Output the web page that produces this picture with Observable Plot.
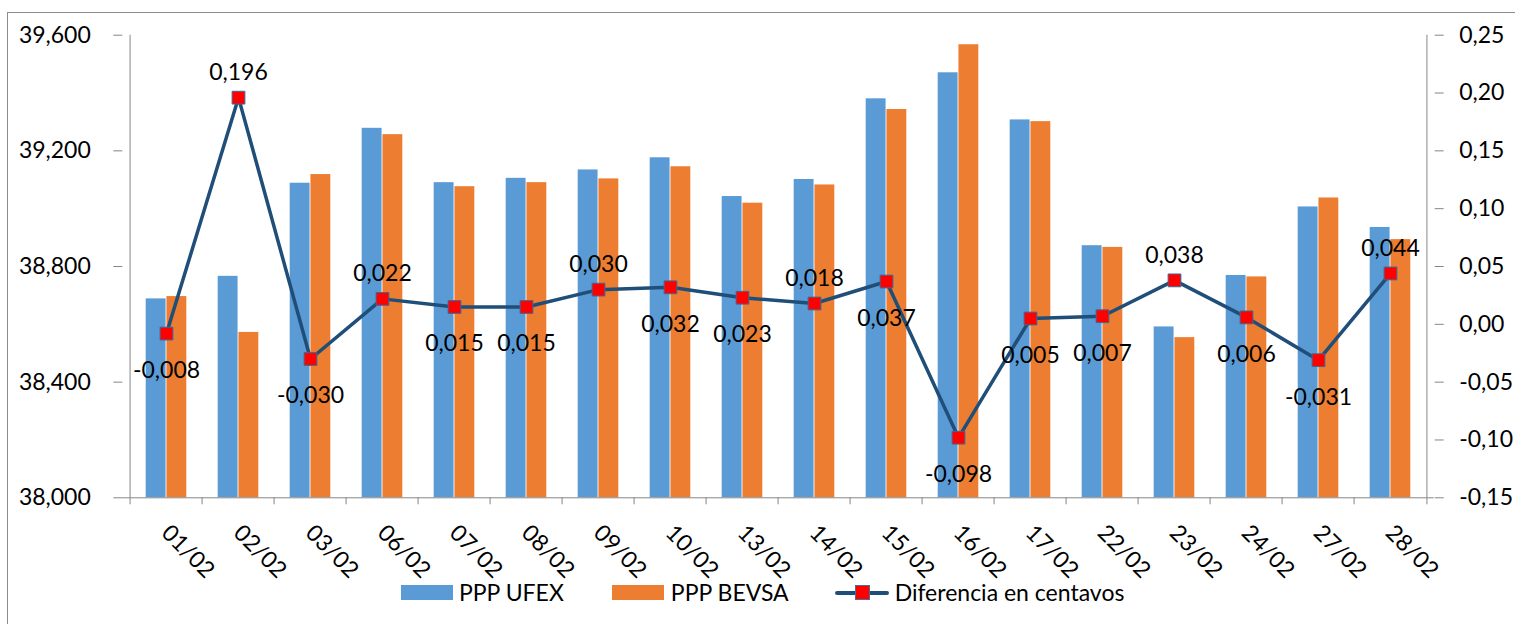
<!DOCTYPE html>
<html>
<head>
<meta charset="utf-8">
<script src="https://cdn.jsdelivr.net/npm/d3@7"></script>
<script src="https://cdn.jsdelivr.net/npm/@observablehq/plot@0.6"></script>
<style>
  html, body { margin: 0; padding: 0; background: #fff; overflow: hidden; }
  #wrap { position: relative; width: 1515px; height: 624px; font-family: Lato, sans-serif; }
  #border { position: absolute; left: 7px; top: 12px; width: 1530px; height: 640px;
            border-top: 1px solid #8c8c8c; border-left: 1px solid #8c8c8c; box-sizing: border-box; }
  #chart { position: absolute; left: 0; top: 0; }
  #legend { position: absolute; left: 401px; top: 581px; height: 23px; display: flex; align-items: center;
            font-family: Lato, sans-serif; font-size: 23px; color: #000; white-space: nowrap; }
  .sw { display: inline-block; width: 52px; height: 15px; }
  .lab { line-height: 23px; }
  .lineSw { position: relative; display: inline-block; width: 54px; height: 15px; }
  .lineSw .ln { position: absolute; left: 0; top: 5.5px; width: 54px; height: 4px; background: #1F4E79; border-radius: 2px; }
  .lineSw .mk { position: absolute; left: 20px; top: 0; width: 13px; height: 13px; background: #ff0000; border: 1px solid #4a6d99; }
</style>
</head>
<body>
<div id="wrap">
  <div id="border"></div>
  <div id="chart"></div>
  <div id="legend">
    <span class="sw" style="background:#5B9BD5"></span>
    <span class="lab" style="margin-left:6px">PPP UFEX</span>
    <span class="sw" style="background:#ED7D31; margin-left:48px"></span>
    <span class="lab" style="margin-left:7px">PPP BEVSA</span>
    <span class="lineSw" style="margin-left:46px"><span class="ln"></span><span class="mk"></span></span>
    <span class="lab" style="margin-left:6px">Diferencia en centavos</span>
  </div>
</div>
<script>
// ---- data ----
const dates = ["01/02","02/02","03/02","06/02","07/02","08/02","09/02","10/02","13/02",
               "14/02","15/02","16/02","17/02","22/02","23/02","24/02","27/02","28/02"];
const pppUfex  = [38688, 38766, 39088, 39278, 39090, 39105, 39134, 39176, 39042,
                  39101, 39380, 39470, 39307, 38872, 38591, 38769, 39006, 38935];
const pppBevsa = [38696, 38572, 39118, 39256, 39076, 39090, 39103, 39145, 39019,
                  39082, 39343, 39567, 39301, 38866, 38554, 38764, 39037, 38893];
const diferencia = [-0.008, 0.196, -0.030, 0.022, 0.015, 0.015, 0.030, 0.032, 0.023,
                    0.018, 0.037, -0.098, 0.005, 0.007, 0.038, 0.006, -0.031, 0.044];
const leftTicks  = [38000, 38400, 38800, 39200, 39600];
const rightTicks = [-0.15, -0.10, -0.05, 0.00, 0.05, 0.10, 0.15, 0.20, 0.25];
const labelsAbove = ["02/02","06/02","09/02","14/02","23/02","28/02"];

// ---- secondary axis mapping onto the primary y scale ----
const leftDomain = [38000, 39600];
const rightDomain = [-0.15, 0.25];
const toLeft = v => leftDomain[0] + (v - rightDomain[0]) * (leftDomain[1] - leftDomain[0]) / (rightDomain[1] - rightDomain[0]);
const fromLeft = y => rightDomain[0] + (y - leftDomain[0]) * (rightDomain[1] - rightDomain[0]) / (leftDomain[1] - leftDomain[0]);
const fmtComma = (v, n) => v.toFixed(n).replace(".", ",");

const rows = dates.map((d, i) => ({
  date: d, ufex: pppUfex[i], bevsa: pppBevsa[i], diff: diferencia[i], diffY: toLeft(diferencia[i])
}));

const W = 1515, H = 580;
const mL = 122.3, mR = W - 1433.7, mT = 34.7, mB = H - 497.3;
const bw = (W - mL - mR) / dates.length;
const outer = bw * 0.2155, inner = bw / 2;
const axisColor = "#868686";

const chart = Plot.plot({
  width: W, height: H,
  marginLeft: mL, marginRight: mR, marginTop: mT, marginBottom: mB,
  style: { fontFamily: "Lato, sans-serif", fontSize: "23px", color: "#000", background: "transparent", overflow: "visible" },
  x: { type: "band", domain: dates, padding: 0, axis: null, label: null },
  y: { domain: leftDomain, axis: null, label: null },
  marks: [
    Plot.barY(rows, { x: "date", y1: leftDomain[0], y2: "ufex", fill: "#5B9BD5", insetLeft: outer, insetRight: inner }),
    Plot.barY(rows, { x: "date", y1: leftDomain[0], y2: "bevsa", fill: "#ED7D31", insetLeft: inner, insetRight: outer }),
    // axis lines
    Plot.ruleY([leftDomain[0]], { stroke: axisColor, strokeWidth: 1 }),
    Plot.ruleX([dates[0]], { x: d => d, y1: leftDomain[0], y2: leftDomain[1], dx: -bw / 2, stroke: axisColor }),
    Plot.ruleX([dates[dates.length - 1]], { x: d => d, y1: leftDomain[0], y2: leftDomain[1], dx: bw / 2, stroke: axisColor }),
    // left axis
    Plot.axisY({ ticks: leftTicks, tickFormat: d3.format(","), anchor: "left", tickSize: 9, tickPadding: 23,
                 stroke: axisColor, fill: "#000", fontSize: 23, label: null }),
    // right axis (secondary values mapped onto the primary scale)
    Plot.axisY({ ticks: rightTicks.map(toLeft), tickFormat: d => fmtComma(fromLeft(d), 2), anchor: "right",
                 tickSize: 9, tickPadding: 16, stroke: axisColor, fill: "#000", fontSize: 23, textAnchor: "start", label: null }),
    // x tick marks at category boundaries
    Plot.axisX({ ticks: dates, tickFormat: () => "", tickSize: 7, dx: -bw / 2, stroke: axisColor, anchor: "bottom", label: null }),
    Plot.axisX({ ticks: [dates[dates.length - 1]], tickFormat: () => "", tickSize: 7, dx: bw / 2, stroke: axisColor, anchor: "bottom", label: null }),
    // rotated category labels
    Plot.text(dates, { x: d => d, frameAnchor: "bottom", text: d => d, rotate: 45, textAnchor: "start",
                       lineAnchor: "bottom", dx: -6.3, dy: 36.5, fontSize: 23, fill: "#000" }),
    // difference line
    Plot.line(rows, { x: "date", y: "diffY", stroke: "#1F4E79", strokeWidth: 3.5 }),
    Plot.dot(rows, { x: "date", y: "diffY", symbol: "square", r: 7.2, fill: "#ff0000", stroke: "#3f6796", strokeWidth: 1 }),
    Plot.text(rows.filter(r => labelsAbove.includes(r.date)), { x: "date", y: "diffY", text: r => fmtComma(r.diff, 3),
                       dy: -25, fontSize: 23, fill: "#000" }),
    Plot.text(rows.filter(r => !labelsAbove.includes(r.date)), { x: "date", y: "diffY", text: r => fmtComma(r.diff, 3),
                       dy: 37, fontSize: 23, fill: "#000" })
  ]
});
document.getElementById("chart").appendChild(chart);
</script>
</body>
</html>
